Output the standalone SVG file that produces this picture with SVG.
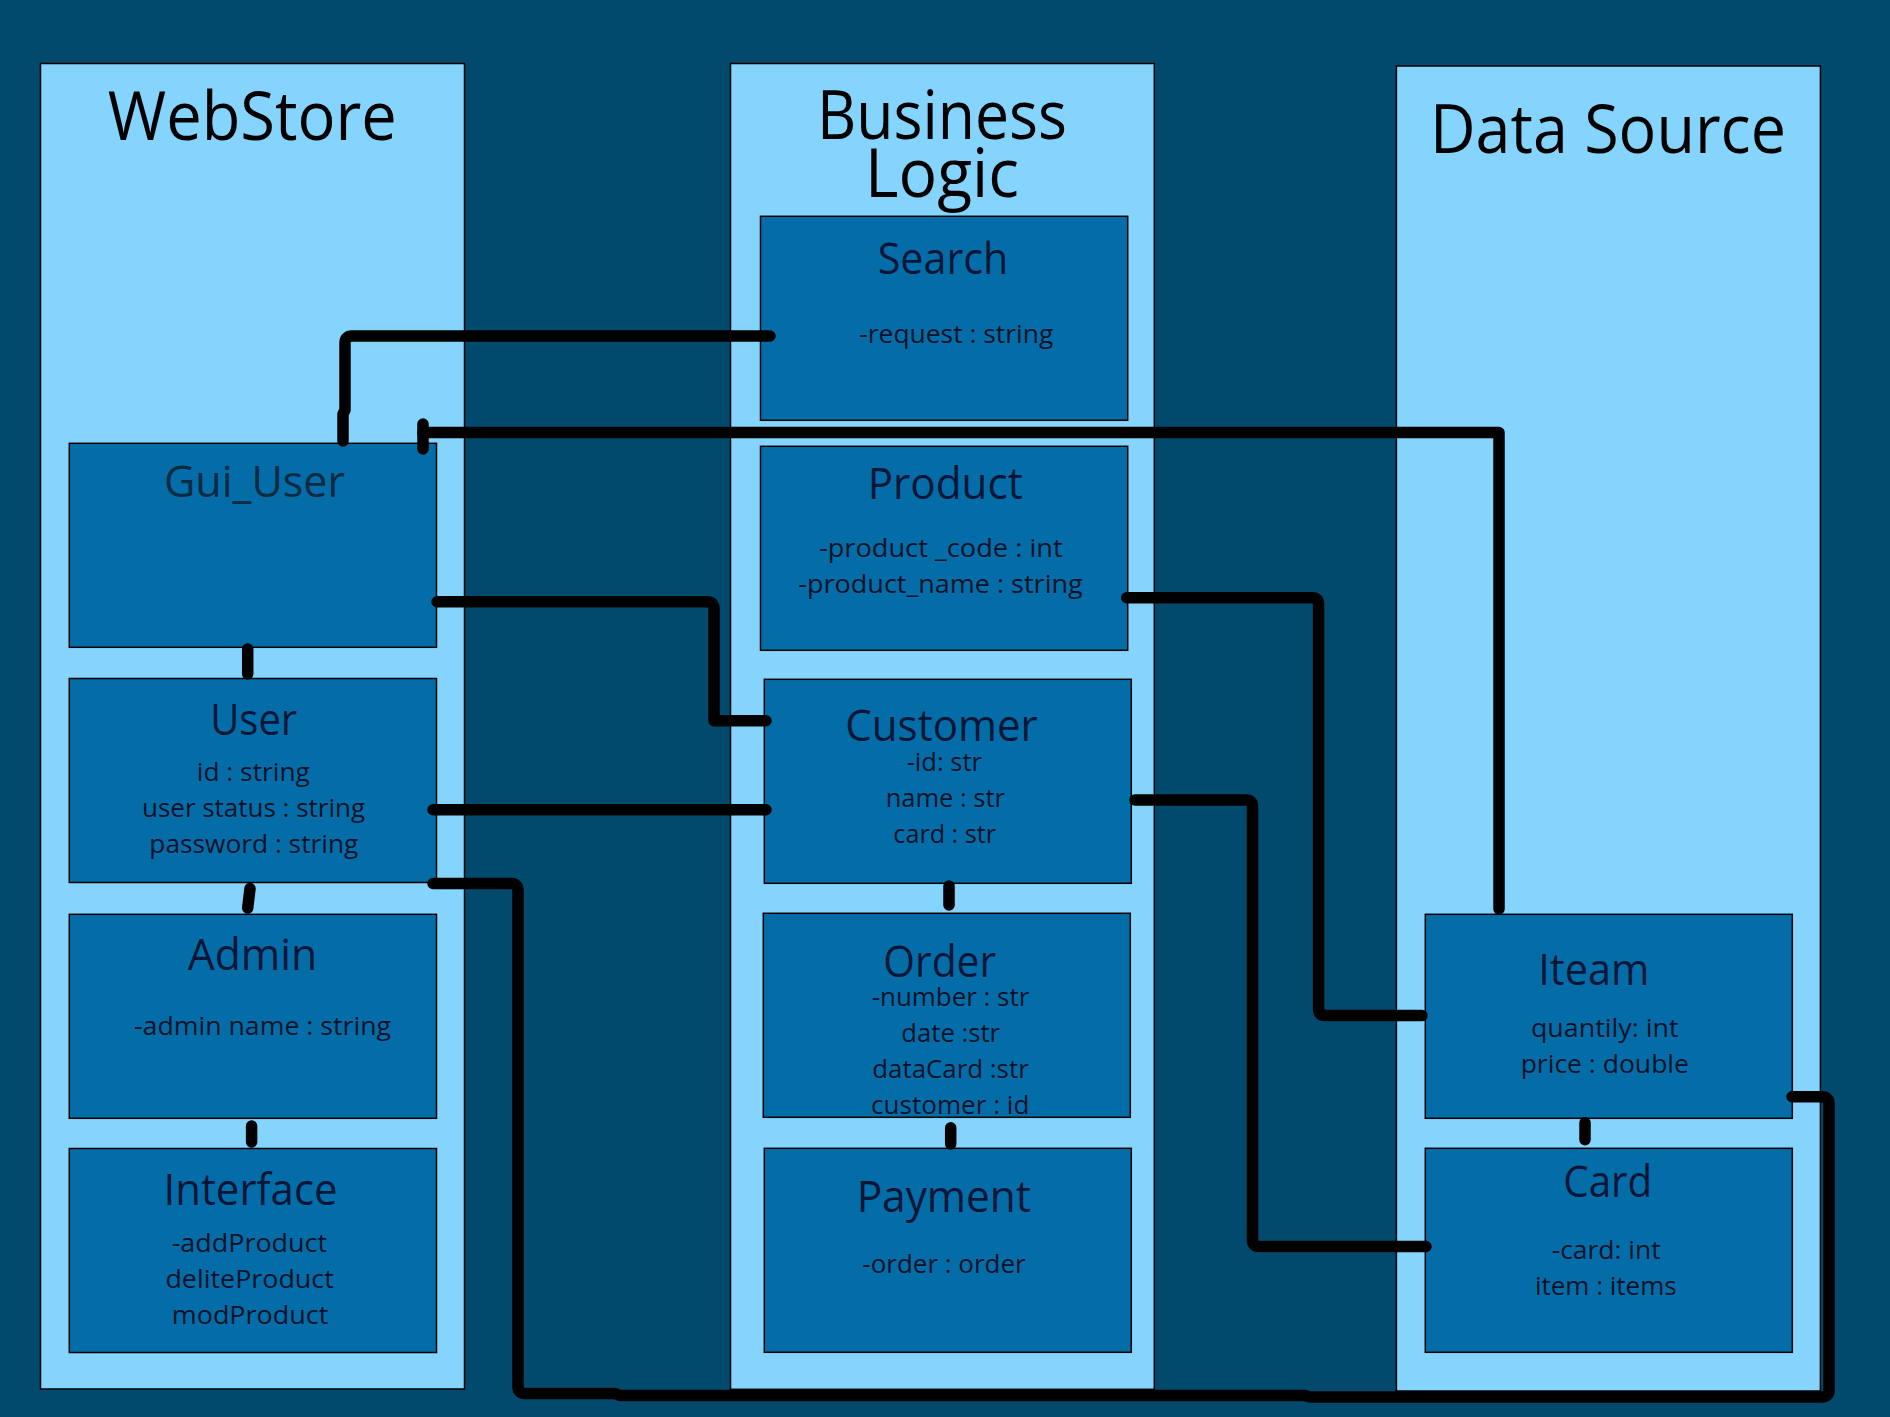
<svg xmlns="http://www.w3.org/2000/svg" width="1890" height="1417" viewBox="0 0 1890 1417">
<style>
.bg{fill:#014A6D}
.panel{fill:#84D4FD;stroke:#000;stroke-width:1.5}
.box{fill:#046DA8;stroke:#000;stroke-width:1.5}
.ptitle{font-family:"Open Sans","Noto Sans",sans-serif;font-size:68px;fill:#000;text-anchor:middle}
.btitle{font-family:"Open Sans","Noto Sans",sans-serif;font-size:43px;fill:#071637;text-anchor:middle}
.attr{font-family:"Open Sans","Noto Sans",sans-serif;font-size:26px;fill:#061228;text-anchor:middle}
.conn{fill:none;stroke:#000;stroke-width:11.5;stroke-linecap:round;stroke-linejoin:round}
</style>
<rect class="bg" x="0" y="0" width="1890" height="1417"/>

<g id="panel-webstore">
<rect class="panel" x="40.5" y="63.5" width="424" height="1325.5"/>
<text class="ptitle" x="252.3" y="140" textLength="289" lengthAdjust="spacingAndGlyphs">WebStore</text>
</g>
<g id="panel-business">
<rect class="panel" x="730.5" y="63.5" width="423.8" height="1325.8"/>
<text class="ptitle" x="942" y="139" textLength="250" lengthAdjust="spacingAndGlyphs">Business</text>
<text class="ptitle" x="942" y="196.7" textLength="154" lengthAdjust="spacingAndGlyphs">Logic</text>
</g>
<g id="panel-datasource">
<rect class="panel" x="1396.4" y="66" width="424" height="1325"/>
<text class="ptitle" x="1608" y="153" textLength="356" lengthAdjust="spacingAndGlyphs">Data Source</text>
</g>

<g id="node-gui-user">
<rect class="box" x="69.3" y="443.3" width="367.2" height="204"/>
<text class="btitle" x="254.5" y="497.3" textLength="181" lengthAdjust="spacingAndGlyphs" style="fill:#0c2a42">Gui_User</text>
</g>
<g id="node-user">
<rect class="box" x="69.3" y="678.5" width="367.2" height="204"/>
<text class="btitle" x="253.7" y="735" textLength="87" lengthAdjust="spacingAndGlyphs">User</text>
<text class="attr" x="253.3" y="780.7" textLength="113" lengthAdjust="spacingAndGlyphs">id : string</text>
<text class="attr" x="253.5" y="816.7" textLength="223" lengthAdjust="spacingAndGlyphs">user status : string</text>
<text class="attr" x="253.8" y="852.7" textLength="209" lengthAdjust="spacingAndGlyphs">password : string</text>
</g>
<g id="node-admin">
<rect class="box" x="69.3" y="914.3" width="367.2" height="204"/>
<text class="btitle" x="252.5" y="970" textLength="129.6" lengthAdjust="spacingAndGlyphs">Admin</text>
<text class="attr" x="262.5" y="1035" textLength="257" lengthAdjust="spacingAndGlyphs">-admin name : string</text>
</g>
<g id="node-interface">
<rect class="box" x="69.3" y="1148.5" width="367.2" height="204"/>
<text class="btitle" x="250.5" y="1205" textLength="174" lengthAdjust="spacingAndGlyphs">Interface</text>
<text class="attr" x="249.4" y="1252.3" textLength="155.4" lengthAdjust="spacingAndGlyphs">-addProduct</text>
<text class="attr" x="249.6" y="1288.3" textLength="168.4" lengthAdjust="spacingAndGlyphs">deliteProduct</text>
<text class="attr" x="250" y="1324.3" textLength="156.5" lengthAdjust="spacingAndGlyphs">modProduct</text>
</g>

<g id="node-search">
<rect class="box" x="760.5" y="216.3" width="367.2" height="204"/>
<text class="btitle" x="943" y="274" textLength="130.6" lengthAdjust="spacingAndGlyphs">Search</text>
<text class="attr" x="956.3" y="342.7" textLength="194" lengthAdjust="spacingAndGlyphs">-request : string</text>
</g>
<g id="node-product">
<rect class="box" x="760.5" y="446.3" width="367.2" height="204"/>
<text class="btitle" x="945.2" y="499" textLength="155" lengthAdjust="spacingAndGlyphs">Product</text>
<text class="attr" x="940.8" y="556.7" textLength="243.7" lengthAdjust="spacingAndGlyphs">-product _code : int</text>
<text class="attr" x="940.5" y="593.3" textLength="284.4" lengthAdjust="spacingAndGlyphs">-product_name : string</text>
</g>
<g id="node-customer">
<rect class="box" x="764.3" y="679.3" width="367" height="204"/>
<text class="btitle" x="941.5" y="740.7" textLength="192.4" lengthAdjust="spacingAndGlyphs">Customer</text>
<text class="attr" x="944.3" y="770.7" textLength="75.3" lengthAdjust="spacingAndGlyphs">-id: str</text>
<text class="attr" x="945.3" y="806.7" textLength="119.3" lengthAdjust="spacingAndGlyphs">name : str</text>
<text class="attr" x="944.7" y="842.7" textLength="102.7" lengthAdjust="spacingAndGlyphs">card : str</text>
</g>
<g id="node-order">
<rect class="box" x="763.3" y="913.3" width="367" height="204"/>
<text class="btitle" x="939.7" y="976.7" textLength="112.7" lengthAdjust="spacingAndGlyphs">Order</text>
<text class="attr" x="950.5" y="1006" textLength="157.6" lengthAdjust="spacingAndGlyphs">-number : str</text>
<text class="attr" x="950.7" y="1041.7" textLength="98.7" lengthAdjust="spacingAndGlyphs">date :str</text>
<text class="attr" x="950.5" y="1078.3" textLength="156.4" lengthAdjust="spacingAndGlyphs">dataCard :str</text>
<text class="attr" x="950.2" y="1114.3" textLength="158.3" lengthAdjust="spacingAndGlyphs">customer : id</text>
</g>
<g id="node-payment">
<rect class="box" x="764.3" y="1148.3" width="367" height="204"/>
<text class="btitle" x="943.8" y="1211.7" textLength="174.3" lengthAdjust="spacingAndGlyphs">Payment</text>
<text class="attr" x="944" y="1273.3" textLength="163.4" lengthAdjust="spacingAndGlyphs">-order : order</text>
</g>

<g id="node-iteam">
<rect class="box" x="1425.3" y="914.3" width="367" height="204"/>
<text class="btitle" x="1593.8" y="985" textLength="111" lengthAdjust="spacingAndGlyphs">Iteam</text>
<text class="attr" x="1604.8" y="1036.7" textLength="147.7" lengthAdjust="spacingAndGlyphs">quantily: int</text>
<text class="attr" x="1604.8" y="1072.7" textLength="168.3" lengthAdjust="spacingAndGlyphs">price : double</text>
</g>
<g id="node-card">
<rect class="box" x="1425.3" y="1148.3" width="367" height="204"/>
<text class="btitle" x="1607.8" y="1196.7" textLength="89" lengthAdjust="spacingAndGlyphs">Card</text>
<text class="attr" x="1606.2" y="1259.3" textLength="109" lengthAdjust="spacingAndGlyphs">-card: int</text>
<text class="attr" x="1605.8" y="1295" textLength="141.7" lengthAdjust="spacingAndGlyphs">item : items</text>
</g>

<g id="connectors">
<path class="conn" d="M770,336 H352 Q345,336 345,343 V410 L343,414 V441"/>
<path class="conn" d="M423,424 V449"/>
<path class="conn" d="M423,432.5 H1499 V909"/>
<path class="conn" d="M437,601.7 H707 Q714,601.7 714,609 V720.7 H766"/>
<path class="conn" d="M433,809.7 H766"/>
<path class="conn" d="M433,883.5 H511 Q518,883.5 518,890.5 V1386.5 Q518,1393.5 525,1393.5 H615 L620,1395.5 H1305 L1310,1397 H1822 Q1829,1397 1829,1390 V1103.7 Q1829,1096.7 1822,1096.7 H1792"/>
<path class="conn" d="M1126.7,597.7 H1312 Q1318.6,597.7 1318.6,604.3 V1009 Q1318.6,1015.6 1325,1015.6 H1422"/>
<path class="conn" d="M1135,800 H1246 Q1252.5,800 1252.5,806.5 V1240 Q1252.5,1246.5 1259,1246.5 H1426"/>
<path class="conn" d="M247.7,649 V674"/>
<path class="conn" d="M250,888.5 L247.7,908"/>
<path class="conn" d="M251.6,1126 V1142"/>
<path class="conn" d="M949,886 V905"/>
<path class="conn" d="M950.7,1127.7 V1144"/>
<path class="conn" d="M1585,1122.7 V1139.7"/>
</g>
</svg>
